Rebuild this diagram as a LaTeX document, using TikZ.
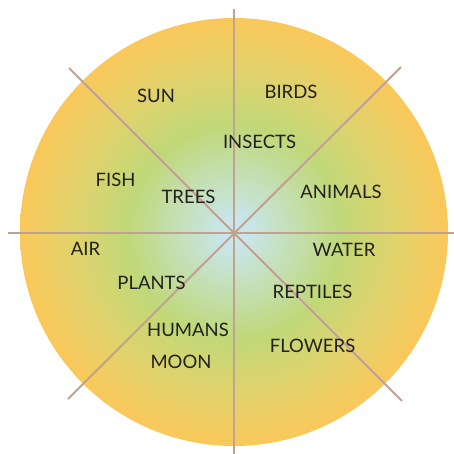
\documentclass[tikz,border=0pt]{standalone}
\usepackage{fontspec}
\setmainfont{Lato}
\definecolor{cen}{RGB}{200,230,236}
\definecolor{grn}{RGB}{192,216,120}
\definecolor{ylw}{RGB}{226,210,108}
\definecolor{org}{RGB}{250,200,90}
\definecolor{spoke}{RGB}{192,162,145}
\definecolor{txt}{RGB}{35,32,32}
\pgfdeclareradialshading{disc}{\pgfpoint{0bp}{0bp}}{color(0bp)=(cen); color(1.5bp)=(cen); color(12.5bp)=(grn); color(19bp)=(ylw); color(25bp)=(org); color(50bp)=(org)}
\begin{document}
\begin{tikzpicture}[x=1pt,y=-1pt,
  lbl/.style={text=txt,font=\fontsize{18.5}{20}\selectfont,inner sep=0pt,anchor=center},
  spk/.style={draw=spoke,line width=2pt}]
\useasboundingbox (0,0) rectangle (454,454);
\shade[shading=disc] (234,232) circle (214);
\coordinate (c) at (234,233);
\coordinate (n) at (234,9);
\coordinate (s) at (234,454);
\coordinate (w) at (8,233);
\coordinate (e) at (454,233);
\coordinate (nw) at (69,68);
\coordinate (se) at (402,401);
\coordinate (ne) at (401,67);
\coordinate (sw) at (68,399);
\draw[spk] (n) -- (s);
\draw[spk] (w) -- (e);
\draw[spk] (nw) -- (se);
\draw[spk] (ne) -- (sw);
\node[lbl] (sun) at (156,96) {SUN};
\node[lbl] (birds) at (291,92) {BIRDS};
\node[lbl] (insects) at (259.5,142) {INSECTS};
\node[lbl] (fish) at (115.5,179.5) {FISH};
\node[lbl] (trees) at (188.5,197) {TREES};
\node[lbl] (animals) at (341,192) {ANIMALS};
\node[lbl] (air) at (85.5,249) {AIR};
\node[lbl] (water) at (344,250) {WATER};
\node[lbl] (plants) at (151.5,283) {PLANTS};
\node[lbl] (reptiles) at (312.5,292) {REPTILES};
\node[lbl] (humans) at (188,330) {HUMANS};
\node[lbl] (moon) at (181,362) {MOON};
\node[lbl] (flowers) at (312.5,345.5) {FLOWERS};
\end{tikzpicture}
\end{document}
